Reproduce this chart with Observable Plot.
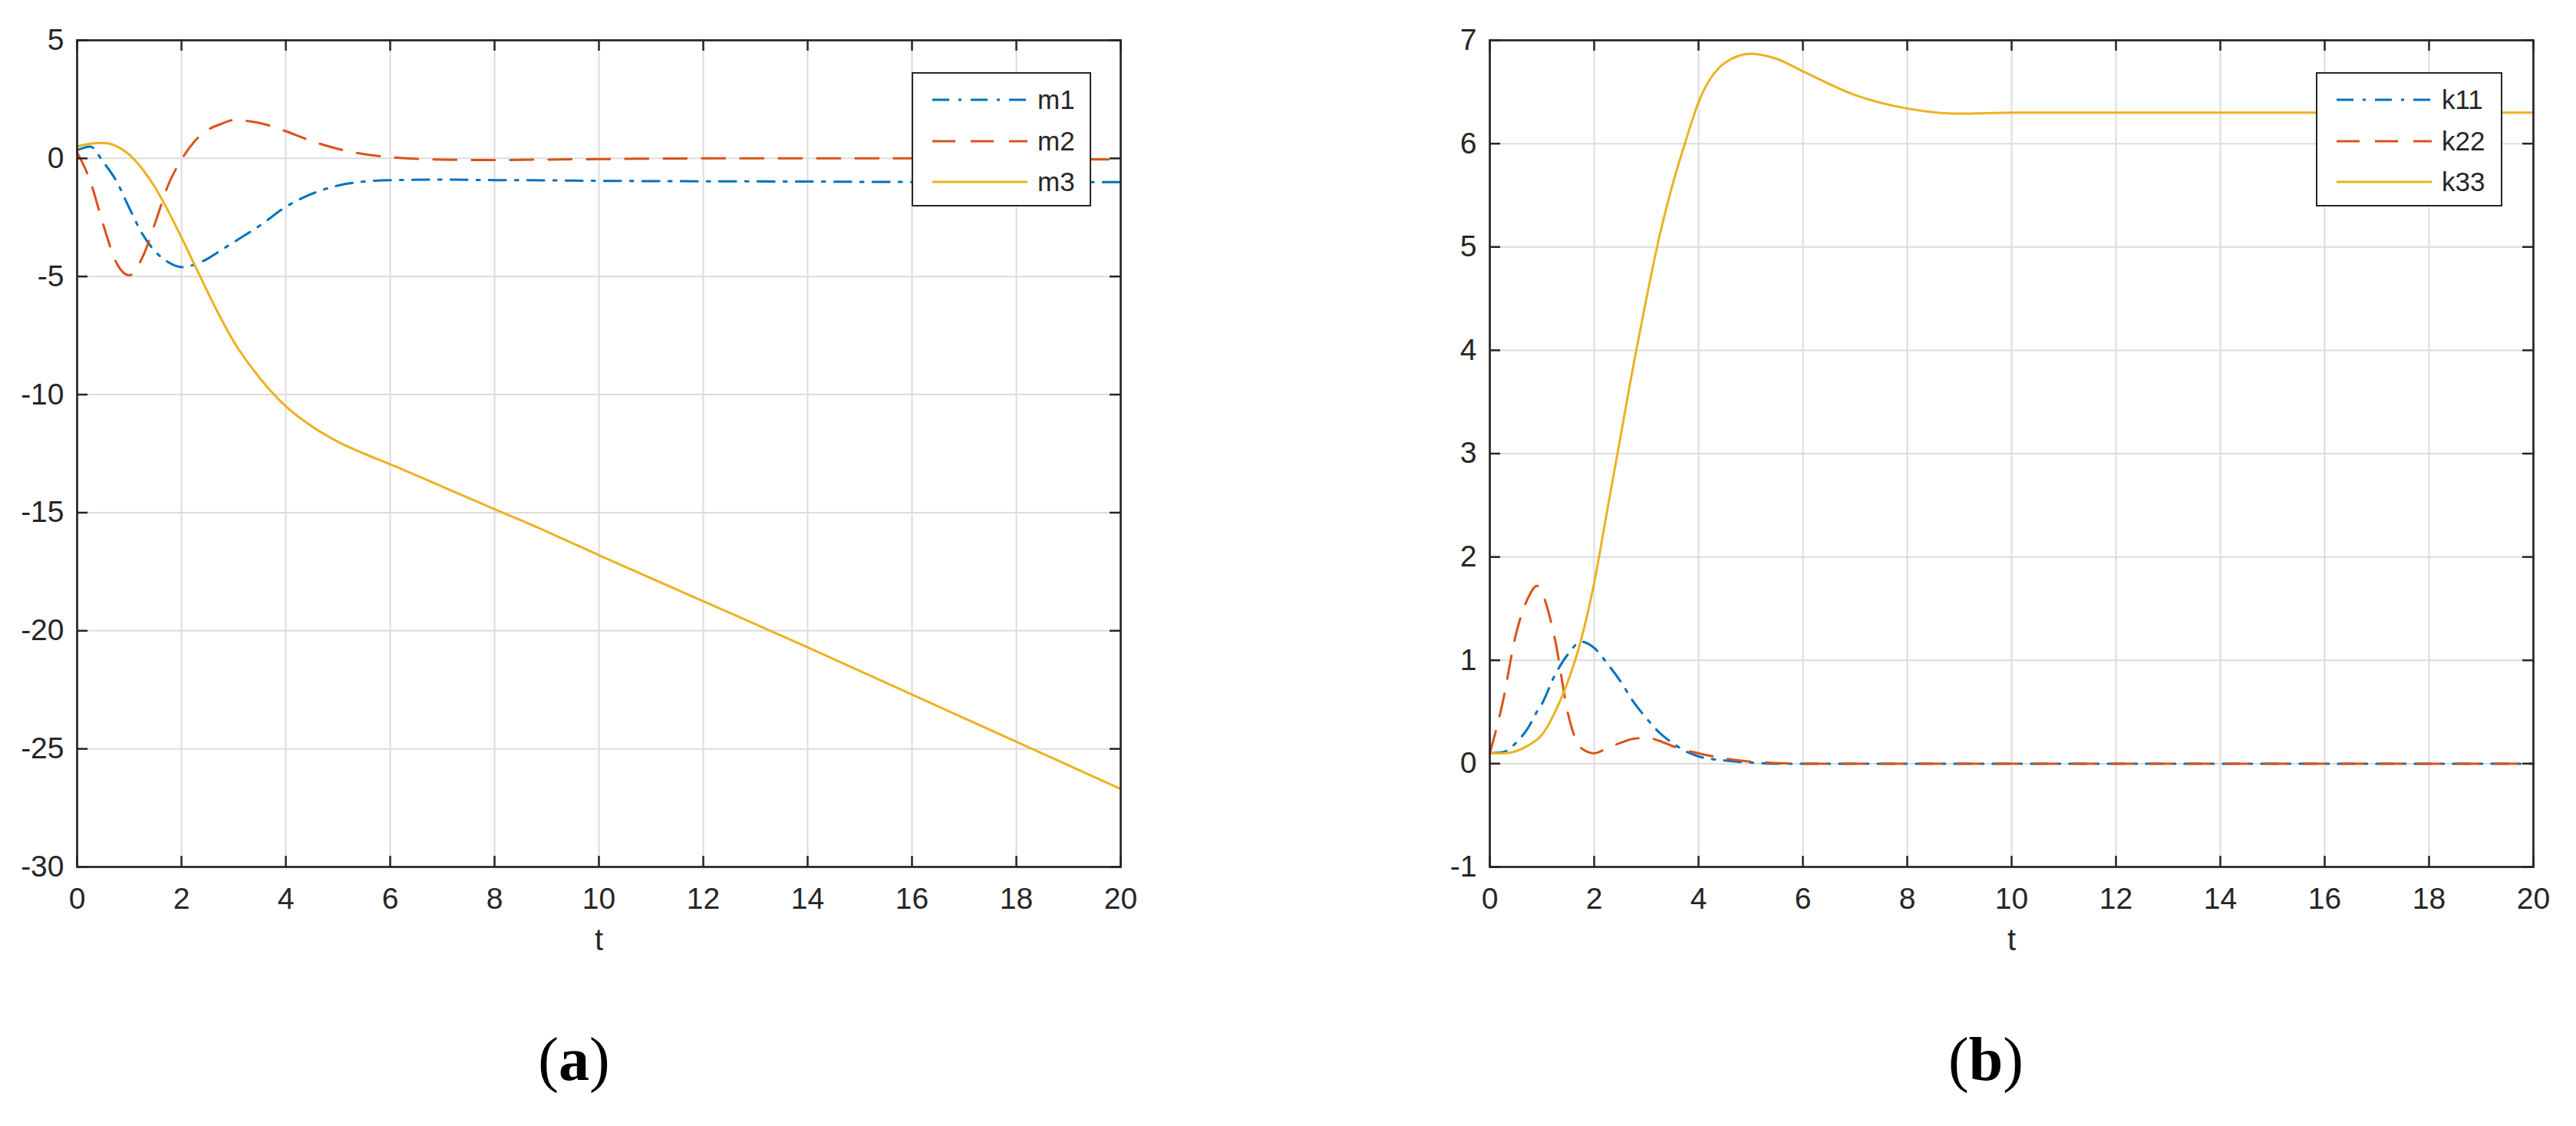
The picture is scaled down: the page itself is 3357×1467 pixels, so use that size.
<!DOCTYPE html>
<html><head><meta charset="utf-8">
<script src="https://cdn.jsdelivr.net/npm/d3@7"></script>
<script src="https://cdn.jsdelivr.net/npm/@observablehq/plot@0.6"></script>
<style>
body{margin:0;background:#fff;}
#root{position:relative;width:3357px;height:1467px;background:#fff;overflow:hidden;font-family:"Liberation Sans",Arial,sans-serif;}
.panel{position:absolute;top:0;}
.legend{position:absolute;background:#fff;border:2.5px solid #262626;box-sizing:border-box;}
.legend .lab{position:absolute;font-size:35px;color:#262626;line-height:40px;}
.caption{position:absolute;font-family:"Liberation Serif","Times New Roman",serif;font-size:80px;line-height:80px;color:#000;transform:translateX(-50%);white-space:nowrap;}
</style>
</head><body><div id="root"></div>
<script>
// ---- data (a) ----
const tA = [0, 0.25, 0.5, 0.75, 1, 1.25, 1.5, 1.75, 2, 2.25, 2.5, 2.75, 3, 3.5, 4, 4.5, 5, 5.5, 6, 7, 8, 9, 10, 12, 14, 16, 18, 20];
const m1 = [0.35, 0.5, -0.15, -0.95, -2.1, -3.2, -3.95, -4.4, -4.6, -4.5, -4.25, -3.9, -3.55, -2.85, -2.05, -1.5, -1.15, -0.98, -0.92, -0.9, -0.92, -0.93, -0.95, -0.97, -0.98, -1.0, -1.0, -1.0];
const m2 = [0.25, -0.95, -2.8, -4.4, -4.95, -4.2, -2.7, -1.1, -0.05, 0.72, 1.2, 1.45, 1.62, 1.5, 1.15, 0.73, 0.4, 0.18, 0.05, -0.05, -0.07, -0.05, -0.03, 0, 0, 0, -0.02, -0.05];
const m3 = [0.5, 0.62, 0.65, 0.52, 0.15, -0.45, -1.25, -2.25, -3.35, -4.5, -5.65, -6.75, -7.75, -9.3, -10.5, -11.35, -12.0, -12.5, -12.95, -13.9, -14.85, -15.8, -16.8, -18.75, -20.7, -22.7, -24.7, -26.7];
// ---- data (b) ----
const tB = [0, 0.25, 0.5, 0.75, 0.9, 1, 1.25, 1.5, 1.75, 2, 2.25, 2.5, 2.75, 3, 3.25, 3.5, 3.75, 4, 4.5, 5, 5.5, 6, 7, 8, 9, 10, 12, 14, 16, 18, 20];
const k11 = [0.1, 0.11, 0.2, 0.36, 0.5, 0.58, 0.86, 1.06, 1.18, 1.12, 0.97, 0.8, 0.6, 0.44, 0.3, 0.2, 0.12, 0.07, 0.03, 0.01, 0, 0, 0, 0, 0, 0, 0, 0, 0, 0, 0];
const k22 = [0.1, 0.6, 1.25, 1.62, 1.72, 1.65, 1.2, 0.48, 0.15, 0.1, 0.15, 0.2, 0.24, 0.25, 0.22, 0.17, 0.13, 0.1, 0.05, 0.02, 0.005, 0, 0, 0, 0, 0, 0, 0, 0, 0, 0];
const k33 = [0.1, 0.1, 0.12, 0.18, 0.23, 0.28, 0.5, 0.8, 1.2, 1.75, 2.45, 3.15, 3.85, 4.5, 5.1, 5.6, 6.02, 6.4, 6.78, 6.87, 6.82, 6.7, 6.47, 6.34, 6.29, 6.3, 6.3, 6.3, 6.3, 6.3, 6.3];
// ---- ticks / labels ----
const xTicks = [0, 2, 4, 6, 8, 10, 12, 14, 16, 18, 20];
const yTicksA = [-30, -25, -20, -15, -10, -5, 0, 5];
const yTicksB = [-1, 0, 1, 2, 3, 4, 5, 6, 7];
const namesA = ["m1", "m2", "m3"];
const namesB = ["k11", "k22", "k33"];
const xLabel = "t";
const captions = ["a", "b"];
const colors = ["#0072BD", "#D95319", "#EDB120"];
const dashes = ["22,12,4,12", "30,20", "none"];

const FW = 1360, FH = 1077, TK = 14;
const INK = "#262626";
const fmt = d => String(d);

function panel(t, series, names, yDomain, yTicks, width) {
  const marks = [
    Plot.gridX(xTicks, {stroke: "#dcdcdc", strokeOpacity: 1, strokeWidth: 2}),
    Plot.gridY(yTicks, {stroke: "#dcdcdc", strokeOpacity: 1, strokeWidth: 2})
  ];
  series.forEach((vals, i) => {
    const rows = t.map((x, j) => ({t: x, v: vals[j], s: names[i]}));
    marks.push(Plot.line(rows, {x: "t", y: "v", stroke: colors[i], strokeWidth: 3,
      strokeDasharray: dashes[i], curve: "monotone-x"}));
  });
  marks.push(
    Plot.axisX(xTicks, {anchor: "bottom", tickSize: 0, tickPadding: 27, fontSize: 39, fill: INK, label: null, tickFormat: fmt}),
    Plot.axisY(yTicks, {anchor: "left", tickSize: 0, tickPadding: 17, fontSize: 39, fill: INK, label: null, tickFormat: fmt}),
    Plot.tickX(xTicks, {x: d => d, insetTop: FH - TK, stroke: INK, strokeWidth: 2.5}),
    Plot.tickX(xTicks, {x: d => d, insetBottom: FH - TK, stroke: INK, strokeWidth: 2.5}),
    Plot.tickY(yTicks, {y: d => d, insetRight: FW - TK, stroke: INK, strokeWidth: 2.5}),
    Plot.tickY(yTicks, {y: d => d, insetLeft: FW - TK, stroke: INK, strokeWidth: 2.5}),
    Plot.frame({stroke: INK, strokeWidth: 2.7}),
    Plot.text([xLabel], {text: d => d, frameAnchor: "bottom", dy: 108, fontSize: 40, fill: INK})
  );
  return Plot.plot({
    width: width, height: 1300,
    marginLeft: 100, marginTop: 52, marginRight: width - 100 - FW, marginBottom: 1300 - 52 - FH,
    x: {domain: [0, 20]},
    y: {domain: yDomain},
    style: {fontFamily: '"Liberation Sans", Arial, sans-serif', background: "transparent", color: INK},
    marks
  });
}

function legend(root, names, left, top, w, h) {
  const box = document.createElement("div");
  box.className = "legend";
  Object.assign(box.style, {left: left + "px", top: top + "px", width: w + "px", height: h + "px"});
  const ys = [34, 88, 141];
  names.forEach((n, i) => {
    const svg = document.createElementNS("http://www.w3.org/2000/svg", "svg");
    svg.setAttribute("width", 130); svg.setAttribute("height", 10);
    Object.assign(svg.style, {position: "absolute", left: "25px", top: (ys[i] - 5) + "px"});
    const ln = document.createElementNS("http://www.w3.org/2000/svg", "line");
    ln.setAttribute("x1", 0); ln.setAttribute("x2", 124); ln.setAttribute("y1", 5); ln.setAttribute("y2", 5);
    ln.setAttribute("stroke", colors[i]); ln.setAttribute("stroke-width", 3);
    if (dashes[i] !== "none") ln.setAttribute("stroke-dasharray", dashes[i]);
    svg.appendChild(ln);
    box.appendChild(svg);
    const lab = document.createElement("div");
    lab.className = "lab"; lab.textContent = n;
    Object.assign(lab.style, {left: "162px", top: (ys[i] - 20) + "px"});
    box.appendChild(lab);
  });
  root.appendChild(box);
}

const root = document.getElementById("root");
const pA = panel(tA, [m1, m2, m3], namesA, [-30, 5], yTicksA, 1560);
pA.classList.add("panel"); pA.style.left = "0px";
root.appendChild(pA);
const pB = panel(tB, [k11, k22, k33], namesB, [-1, 7], yTicksB, 1500);
pB.classList.add("panel"); pB.style.left = "1841px";
root.appendChild(pB);

legend(root, namesA, 1188, 94, 234, 175);
legend(root, namesB, 3018, 94, 243, 175);

[[captions[0], 748], [captions[1], 2588]].forEach(([c, x]) => {
  const d = document.createElement("div");
  d.className = "caption";
  d.innerHTML = "(<b>" + c + "</b>)";
  d.style.left = x + "px"; d.style.top = "1340px";
  root.appendChild(d);
});
</script>
</body></html>
